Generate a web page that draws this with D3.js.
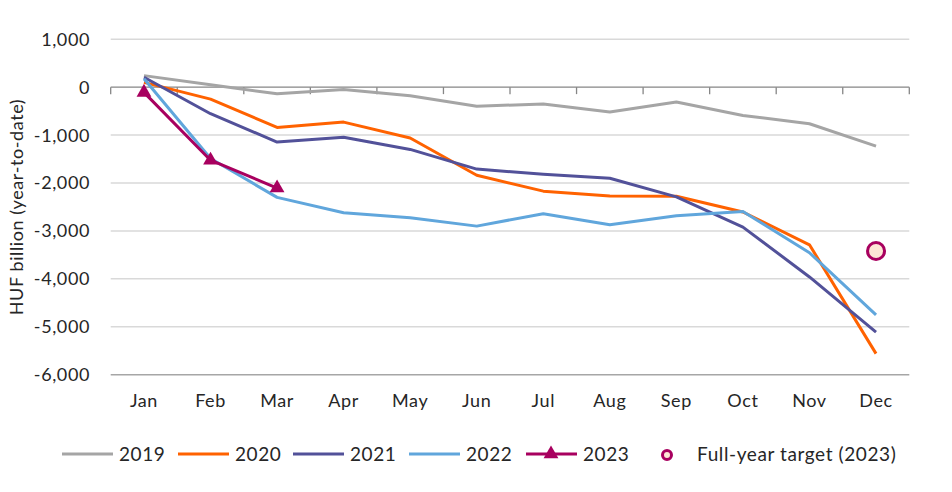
<!DOCTYPE html>
<html><head><meta charset="utf-8">
<script src="https://cdn.jsdelivr.net/npm/d3@7"></script>
<style>body{margin:0;background:#fff}svg{display:block}text{font-family:Lato,"Open Sans",sans-serif;fill:#262626}</style>
</head><body><svg id="c" width="952" height="492"></svg>
<script>
const months = ["Jan","Feb","Mar","Apr","May","Jun","Jul","Aug","Sep","Oct","Nov","Dec"];
const yTicks = [1000,0,-1000,-2000,-3000,-4000,-5000,-6000];
const s2019 = [240,50,-140,-50,-180,-400,-350,-520,-310,-590,-765,-1230];
const s2020 = [100,-250,-840,-730,-1060,-1840,-2170,-2270,-2275,-2605,-3290,-5560];
const s2021 = [205,-555,-1145,-1045,-1300,-1710,-1820,-1900,-2290,-2920,-3960,-5110];
const s2022 = [175,-1490,-2300,-2620,-2725,-2900,-2640,-2870,-2685,-2595,-3455,-4750];
const s2023 = [-110,-1525,-2105];
const targetMonth = "Dec";
const targetValue = -3420;
const seriesNames = ["2019","2020","2021","2022","2023"];
const colors = ["#a5a5a5","#ff6200","#525199","#60a6dc","#a8005f"];

const svg = d3.select("#c");
const L=110.7, R=909.3, T=39.2, B=374.7;
const x = d3.scaleBand().domain(months).range([L,R]);
const y = d3.scaleLinear().domain([1000,-6000]).range([T,B]);
const fmt = d => d3.format(",")(d).replace("\u2212","-");

// gridlines
svg.append("g").selectAll("line").data(yTicks.filter(d=>d!==0)).join("line")
  .attr("x1",L).attr("x2",R).attr("y1",d=>y(d)).attr("y2",d=>y(d))
  .attr("stroke",d=>d===-6000?"#a6a6a6":"#d9d9d9").attr("stroke-width",1.5);
// y labels
svg.append("g").selectAll("text").data(yTicks).join("text")
  .attr("x",90).attr("y",d=>y(d)).attr("dy","0.36em").attr("text-anchor","end")
  .style("font-size","18px").style("letter-spacing","0.6px").text(d=>fmt(d));
// zero axis with ticks
const xa = svg.append("g").attr("transform",`translate(0,${y(0)})`)
  .call(d3.axisBottom(x).tickSize(0).tickFormat(""));
xa.select(".domain").remove();
xa.append("line").attr("x1",L).attr("x2",R).attr("stroke","#868686").attr("stroke-width",1.3);
const bounds = months.map(m=>x(m)).concat([R]);
xa.selectAll("line.tk").data(bounds).join("line").attr("class","tk")
  .attr("x1",d=>d).attr("x2",d=>d).attr("y1",0).attr("y2",7).attr("stroke","#868686").attr("stroke-width",1.3);
// month labels
svg.append("g").selectAll("text").data(months).join("text")
  .attr("x",d=>x(d)+x.bandwidth()/2).attr("y",401).attr("dy","0.36em").attr("text-anchor","middle")
  .style("font-size","18px").style("letter-spacing","0.6px").text(d=>d);
// y title
svg.append("text").attr("transform","translate(17,207) rotate(-90)").attr("text-anchor","middle")
  .attr("dy","0.36em").style("font-size","18px").style("letter-spacing","0.6px").text("HUF billion (year-to-date)");

const line = d3.line().x((d,i)=>x(months[i])+x.bandwidth()/2).y(d=>y(d));
const allSeries=[s2019,s2020,s2021,s2022,s2023];
allSeries.forEach((s,k)=>{
  svg.append("path").datum(s).attr("d",line).attr("fill","none")
    .attr("stroke",colors[k]).attr("stroke-width",3).attr("stroke-linejoin","round");
});
const tri = d3.symbol().type(d3.symbolTriangle).size(95);
svg.append("g").selectAll("path").data(s2023).join("path")
  .attr("transform",(d,i)=>`translate(${x(months[i])+x.bandwidth()/2},${y(d)})`)
  .attr("d",tri).attr("fill",colors[4]);
// target
svg.append("circle").attr("cx",x(targetMonth)+x.bandwidth()/2).attr("cy",y(targetValue)).attr("r",8.5)
  .attr("fill","#fde6d6").attr("stroke",colors[4]).attr("stroke-width",3);

// legend
const ly=454;
const legX=[62,178,293,409,526];
seriesNames.forEach((n,k)=>{
  const g=svg.append("g");
  g.append("line").attr("x1",legX[k]).attr("x2",legX[k]+51).attr("y1",ly).attr("y2",ly)
    .attr("stroke",colors[k]).attr("stroke-width",3);
  if(k===4) g.append("path").attr("transform",`translate(${legX[k]+25},${ly})`).attr("d",tri).attr("fill",colors[4]);
  g.append("text").attr("x",legX[k]+57).attr("y",ly).attr("dy","0.36em").style("font-size","19px").style("letter-spacing","0.6px").text(n);
});
svg.append("circle").attr("cx",667).attr("cy",ly+1).attr("r",4.5).attr("fill","#fde6d6").attr("stroke",colors[4]).attr("stroke-width",3);
svg.append("text").attr("x",697).attr("y",ly).attr("dy","0.36em").style("font-size","19px").style("letter-spacing","0.6px").text("Full-year target (2023)");
</script></body></html>
